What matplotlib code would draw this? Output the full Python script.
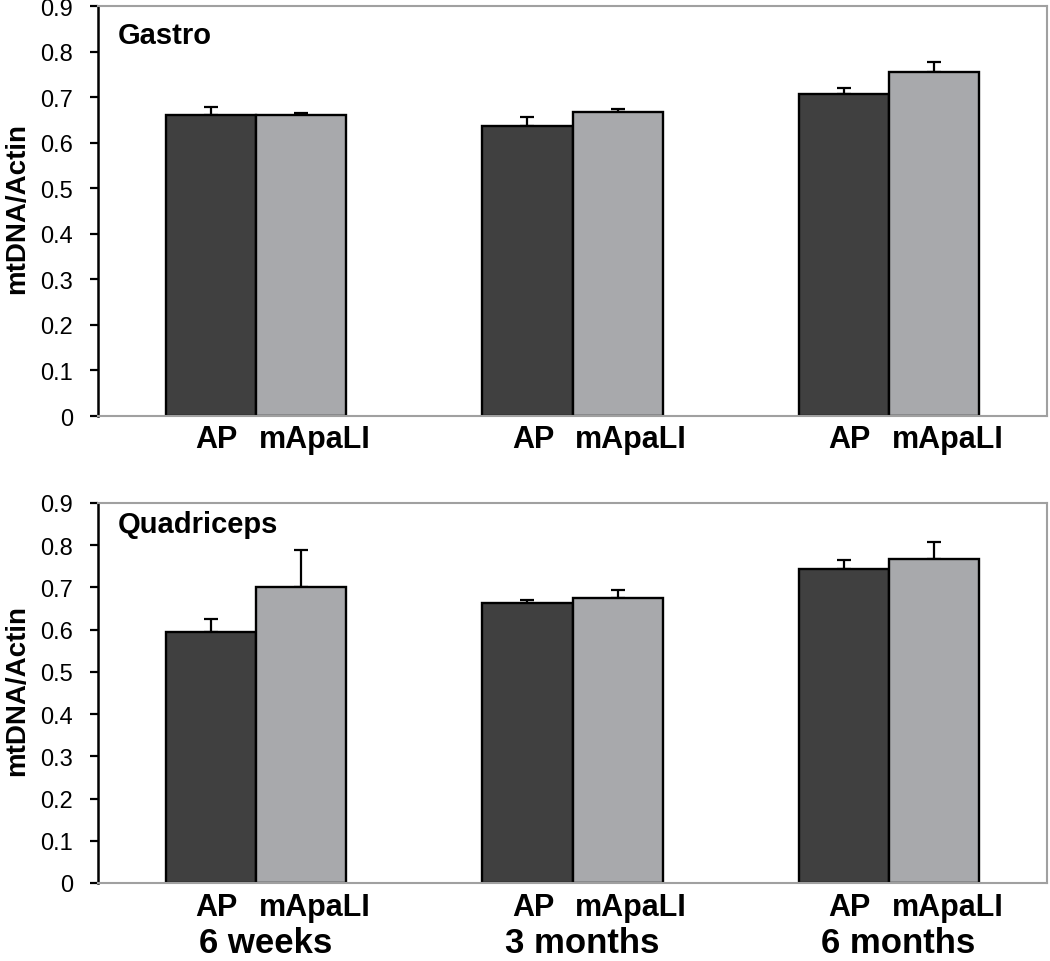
import matplotlib
matplotlib.use("Agg")
import matplotlib.pyplot as plt
import matplotlib.transforms as mtransforms
import numpy as np

plt.rcParams['font.family'] = ['Liberation Sans', 'DejaVu Sans']

groups = ["6 weeks", "3 months", "6 months"]
series = ["AP", "mApaLI"]
panels = ["Gastro", "Quadriceps"]

gastro_ap = [0.661, 0.637, 0.707]
gastro_ap_err = [0.017, 0.019, 0.013]
gastro_mapali = [0.661, 0.667, 0.755]
gastro_mapali_err = [0.004, 0.007, 0.023]

quad_ap = [0.594, 0.664, 0.744]
quad_ap_err = [0.032, 0.006, 0.020]
quad_mapali = [0.701, 0.676, 0.768]
quad_mapali_err = [0.088, 0.018, 0.039]

yticks = [0, 0.1, 0.2, 0.3, 0.4, 0.5, 0.6, 0.7, 0.8, 0.9]
ytick_labels = ["0", "0.1", "0.2", "0.3", "0.4", "0.5", "0.6", "0.7", "0.8", "0.9"]

c_ap = "#404040"
c_m = "#a8a9ac"
border = "#a0a0a0"

fig = plt.figure(figsize=(10.5, 9.62), dpi=100)
ax_top = fig.add_axes([0.0933, 0.5665, 0.904, 0.426])
ax_bot = fig.add_axes([0.0933, 0.0811, 0.904, 0.395])

data = [
    (ax_top, gastro_ap, gastro_ap_err, gastro_mapali, gastro_mapali_err, panels[0]),
    (ax_bot, quad_ap, quad_ap_err, quad_mapali, quad_mapali_err, panels[1]),
]

x = np.arange(len(groups))
w = 0.285

for i, (ax, ap, ape, mm, mme, title) in enumerate(data):
    ax.bar(x - w / 2, ap, w, color=c_ap, edgecolor="black", linewidth=1.7, zorder=2)
    ax.bar(x + w / 2, mm, w, color=c_m, edgecolor="black", linewidth=1.7, zorder=2)
    ax.errorbar(x - w / 2, ap, yerr=[np.zeros(len(ap)), ape], fmt="none",
                ecolor="black", elinewidth=1.6, capsize=5, capthick=1.6, zorder=1)
    ax.errorbar(x + w / 2, mm, yerr=[np.zeros(len(mm)), mme], fmt="none",
                ecolor="black", elinewidth=1.6, capsize=5, capthick=1.6, zorder=1)
    ax.set_xlim(-0.5, 2.5)
    ax.set_ylim(0, 0.9)
    ax.set_yticks(yticks)
    ax.set_yticklabels(ytick_labels, fontsize=17)
    ax.set_xticks([])
    ax.tick_params(axis="y", direction="out", length=6, width=1.6, color="black", pad=12)
    ax.spines["left"].set_color("black")
    ax.spines["left"].set_linewidth(1.8)
    for s in ["top", "right", "bottom"]:
        ax.spines[s].set_color(border)
        ax.spines[s].set_linewidth(1.5)
    ax.spines["bottom"].set_zorder(3)
    ax.set_ylabel("mtDNA/Actin", fontsize=20, fontweight="bold")
    ax.yaxis.set_label_coords(-0.071, 0.51)
    ax.text(0.021, 0.93 if i == 0 else 0.945, title, transform=ax.transAxes,
            fontsize=21, fontweight="bold", va="center", ha="left")
    trans = mtransforms.blended_transform_factory(ax.transData, ax.transAxes)
    ylab = -0.056 if i == 0 else -0.062
    for g in x:
        ax.text(g - 0.125, ylab, series[0], transform=trans, fontsize=22,
                fontweight="bold", ha="center", va="center")
        ax.text(g + 0.185, ylab, series[1], transform=trans, fontsize=22,
                fontweight="bold", ha="center", va="center")
    if i == 1:
        for g, name in zip(x, groups):
            ax.text(g + 0.03, -0.156, name, transform=trans, fontsize=25,
                    fontweight="bold", ha="center", va="center")

fig.savefig("out.png", dpi=100)
